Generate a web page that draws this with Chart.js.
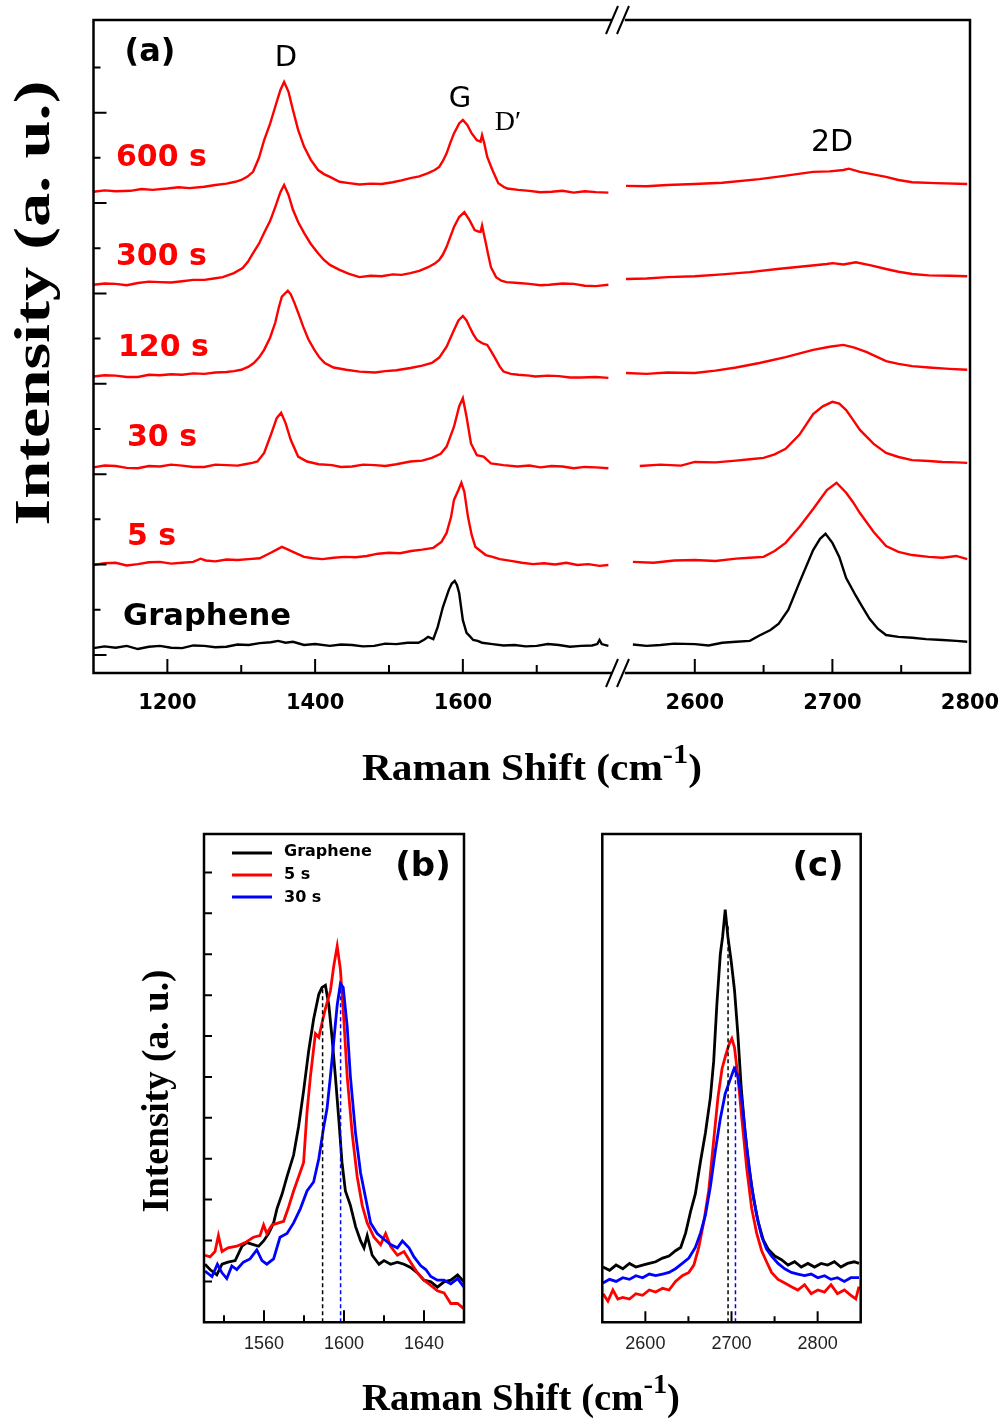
<!DOCTYPE html>
<html>
<head>
<meta charset="utf-8">
<script src="https://cdn.jsdelivr.net/npm/chart.js@4.4.1/dist/chart.umd.min.js"></script>
<style>
  html, body { margin: 0; padding: 0; background: #fff; }
  #page { position: relative; width: 1005px; height: 1425px; overflow: hidden; }
  #page canvas { position: absolute; left: 0; top: 0; }
</style>
</head>
<body>
<div id="page">
  <canvas id="a-low" width="1005" height="1425"></canvas>
  <canvas id="a-high" width="1005" height="1425"></canvas>
  <canvas id="b-g" width="1005" height="1425"></canvas>
  <canvas id="c-2d" width="1005" height="1425"></canvas>
</div>
<script>
// ---------- panel (a): stacked spectra, [Raman shift, intensity + offset] ----------
const aGrapheneLow = [[1100,0.15],[1115,0.19],[1130,0.16],[1145,0.20],[1160,0.13],[1175,0.18],[1190,0.20],[1205,0.16],[1220,0.15],[1235,0.21],[1250,0.20],[1265,0.17],[1280,0.18],[1295,0.23],[1310,0.22],[1325,0.26],[1340,0.28],[1350,0.31],[1360,0.27],[1370,0.29],[1385,0.22],[1400,0.24],[1420,0.20],[1435,0.23],[1450,0.22],[1465,0.19],[1480,0.20],[1495,0.25],[1510,0.24],[1525,0.27],[1540,0.27],[1548,0.34],[1553,0.40],[1560,0.35],[1566,0.62],[1573,1.06],[1581,1.44],[1585,1.58],[1589,1.64],[1592,1.55],[1595,1.37],[1600,0.77],[1605,0.49],[1609,0.42],[1614,0.33],[1620,0.31],[1626,0.27],[1640,0.24],[1655,0.21],[1670,0.22],[1685,0.19],[1700,0.20],[1715,0.24],[1730,0.22],[1745,0.18],[1760,0.20],[1775,0.21],[1782,0.24],[1785,0.33],[1788,0.24],[1797,0.20]];
const aGrapheneHigh = [[2555,0.23],[2565,0.20],[2575,0.22],[2585,0.25],[2600,0.24],[2610,0.21],[2620,0.27],[2630,0.29],[2640,0.31],[2647,0.43],[2655,0.55],[2661,0.69],[2668,1.00],[2676,1.60],[2686,2.32],[2691,2.57],[2695,2.68],[2700,2.48],[2705,2.17],[2710,1.70],[2717,1.31],[2721,1.10],[2727,0.80],[2733,0.58],[2739,0.44],[2748,0.40],[2758,0.38],[2768,0.35],[2780,0.33],[2790,0.31],[2798,0.29]];

const a5sLow = [[1100,1.99],[1115,2.03],[1130,2.04],[1145,1.98],[1160,2.01],[1175,2.05],[1190,2.06],[1205,2.02],[1220,2.04],[1235,2.06],[1245,2.13],[1252,2.09],[1265,2.07],[1280,2.11],[1295,2.10],[1310,2.12],[1325,2.14],[1340,2.26],[1348,2.33],[1355,2.39],[1362,2.34],[1370,2.28],[1385,2.17],[1397,2.14],[1410,2.12],[1425,2.15],[1440,2.17],[1455,2.16],[1470,2.19],[1485,2.24],[1500,2.26],[1515,2.25],[1530,2.30],[1545,2.33],[1560,2.37],[1571,2.50],[1578,2.70],[1584,3.05],[1588,3.43],[1594,3.65],[1598,3.81],[1602,3.61],[1607,3.05],[1612,2.65],[1617,2.39],[1624,2.30],[1631,2.21],[1640,2.17],[1650,2.12],[1665,2.08],[1680,2.04],[1695,2.01],[1710,2.03],[1725,2.00],[1740,2.04],[1755,1.99],[1770,2.01],[1785,1.97],[1797,1.99]];
const a5sHigh = [[2555,2.06],[2570,2.04],[2585,2.09],[2600,2.10],[2615,2.08],[2630,2.13],[2640,2.15],[2650,2.17],[2658,2.30],[2666,2.48],[2676,2.83],[2686,3.23],[2696,3.65],[2703,3.81],[2710,3.59],[2715,3.38],[2720,3.14],[2725,2.93],[2730,2.72],[2739,2.41],[2748,2.28],[2758,2.21],[2770,2.17],[2780,2.15],[2790,2.19],[2798,2.12]];

const a30sLow = [[1100,4.15],[1115,4.19],[1130,4.18],[1145,4.14],[1160,4.13],[1175,4.18],[1190,4.17],[1205,4.21],[1220,4.19],[1235,4.16],[1250,4.16],[1265,4.21],[1280,4.20],[1295,4.19],[1305,4.22],[1315,4.25],[1322,4.28],[1331,4.47],[1341,4.91],[1348,5.24],[1354,5.36],[1360,5.13],[1367,4.76],[1377,4.39],[1389,4.28],[1405,4.22],[1423,4.20],[1435,4.16],[1450,4.17],[1465,4.21],[1481,4.20],[1495,4.18],[1510,4.22],[1529,4.28],[1545,4.30],[1558,4.36],[1570,4.45],[1578,4.61],[1588,5.05],[1595,5.50],[1600,5.68],[1605,5.27],[1611,4.68],[1619,4.42],[1628,4.39],[1638,4.24],[1655,4.20],[1674,4.17],[1690,4.19],[1705,4.15],[1720,4.18],[1735,4.17],[1750,4.13],[1765,4.16],[1780,4.15],[1797,4.13]];
const a30sHigh = [[2560,4.18],[2575,4.21],[2590,4.19],[2600,4.27],[2615,4.26],[2630,4.30],[2640,4.33],[2650,4.36],[2658,4.44],[2666,4.56],[2676,4.87],[2686,5.33],[2693,5.50],[2700,5.60],[2705,5.56],[2710,5.42],[2715,5.20],[2720,4.98],[2730,4.67],[2739,4.47],[2748,4.38],[2758,4.31],[2770,4.29],[2780,4.27],[2790,4.26],[2798,4.25]];

const a120sLow = [[1100,6.16],[1115,6.19],[1130,6.18],[1145,6.15],[1160,6.15],[1175,6.20],[1190,6.19],[1205,6.21],[1220,6.20],[1235,6.23],[1250,6.22],[1265,6.25],[1280,6.26],[1290,6.28],[1300,6.31],[1310,6.38],[1317,6.46],[1324,6.58],[1331,6.75],[1339,7.02],[1346,7.35],[1351,7.70],[1355,7.93],[1363,8.06],[1367,7.98],[1372,7.79],[1378,7.53],[1384,7.26],[1391,6.98],[1399,6.75],[1406,6.58],[1413,6.46],[1425,6.36],[1442,6.31],[1460,6.27],[1481,6.25],[1495,6.28],[1510,6.30],[1529,6.35],[1545,6.40],[1558,6.46],[1568,6.58],[1578,6.82],[1588,7.19],[1594,7.40],[1600,7.50],[1605,7.40],[1609,7.26],[1614,7.10],[1619,6.97],[1626,6.90],[1633,6.86],[1639,6.70],[1645,6.53],[1650,6.38],[1655,6.27],[1665,6.22],[1675,6.20],[1690,6.18],[1698,6.16],[1715,6.18],[1730,6.17],[1745,6.14],[1760,6.14],[1780,6.15],[1797,6.13]];
const a120sHigh = [[2550,6.24],[2565,6.22],[2580,6.25],[2600,6.24],[2615,6.29],[2630,6.36],[2647,6.46],[2666,6.59],[2686,6.75],[2698,6.82],[2708,6.86],[2716,6.80],[2725,6.70],[2739,6.50],[2748,6.44],[2758,6.39],[2770,6.36],[2785,6.33],[2798,6.31]];

const a300sLow = [[1100,8.19],[1115,8.22],[1130,8.21],[1145,8.18],[1160,8.23],[1175,8.26],[1190,8.25],[1205,8.24],[1220,8.27],[1235,8.30],[1250,8.30],[1263,8.33],[1275,8.36],[1290,8.45],[1302,8.56],[1309,8.70],[1316,8.89],[1324,9.10],[1331,9.34],[1339,9.60],[1346,9.91],[1353,10.24],[1358,10.40],[1364,10.18],[1370,9.85],[1377,9.58],[1385,9.34],[1394,9.10],[1404,8.89],[1412,8.74],[1420,8.63],[1433,8.52],[1446,8.43],[1460,8.36],[1475,8.39],[1490,8.38],[1505,8.42],[1517,8.41],[1529,8.45],[1541,8.50],[1553,8.58],[1562,8.66],[1568,8.74],[1573,8.86],[1578,9.03],[1583,9.25],[1588,9.47],[1595,9.69],[1602,9.80],[1609,9.62],[1616,9.40],[1621,9.37],[1624,9.36],[1626,9.50],[1629,9.27],[1631,9.12],[1634,8.88],[1638,8.58],[1645,8.36],[1652,8.28],[1659,8.25],[1675,8.23],[1690,8.21],[1705,8.18],[1717,8.19],[1735,8.22],[1750,8.21],[1765,8.17],[1780,8.16],[1797,8.19]];
const a300sHigh = [[2550,8.32],[2565,8.33],[2580,8.36],[2600,8.38],[2620,8.42],[2640,8.47],[2660,8.54],[2680,8.60],[2696,8.65],[2700,8.67],[2708,8.64],[2717,8.69],[2728,8.62],[2739,8.54],[2748,8.48],[2758,8.43],[2770,8.40],[2785,8.39],[2798,8.38]];

const a600sLow = [[1100,10.25],[1115,10.28],[1130,10.26],[1150,10.27],[1165,10.31],[1180,10.29],[1200,10.32],[1215,10.35],[1230,10.33],[1250,10.36],[1265,10.40],[1280,10.43],[1292,10.47],[1300,10.51],[1308,10.58],[1316,10.69],[1324,11.00],[1331,11.39],[1339,11.75],[1346,12.13],[1353,12.50],[1358,12.68],[1364,12.46],[1370,12.06],[1377,11.62],[1385,11.25],[1394,10.96],[1404,10.73],[1412,10.64],[1420,10.58],[1433,10.47],[1446,10.44],[1460,10.41],[1475,10.43],[1490,10.42],[1505,10.46],[1517,10.50],[1529,10.55],[1541,10.59],[1553,10.66],[1562,10.73],[1568,10.80],[1573,10.93],[1578,11.10],[1583,11.33],[1588,11.54],[1595,11.76],[1600,11.84],[1606,11.73],[1612,11.54],[1619,11.39],[1624,11.36],[1626,11.50],[1629,11.32],[1633,11.02],[1640,10.73],[1648,10.44],[1655,10.36],[1660,10.32],[1675,10.29],[1690,10.27],[1705,10.24],[1720,10.25],[1735,10.27],[1750,10.23],[1765,10.26],[1780,10.24],[1797,10.23]];
const a600sHigh = [[2550,10.38],[2565,10.37],[2580,10.40],[2600,10.42],[2620,10.45],[2647,10.53],[2665,10.60],[2686,10.69],[2698,10.70],[2708,10.73],[2712,10.76],[2720,10.69],[2739,10.58],[2748,10.51],[2758,10.46],[2775,10.44],[2798,10.42]];

// ---------- panel (b): G band ----------
const bGraphene = [[1530.5,1.42],[1533,1.29],[1536.4,1.16],[1539,1.42],[1542,1.47],[1545.6,1.51],[1549,1.86],[1551.4,1.95],[1554.7,1.90],[1557.3,1.86],[1559.8,1.99],[1562.3,2.17],[1564.8,2.43],[1566.5,2.78],[1569,3.13],[1571.5,3.56],[1574.8,4.09],[1577.3,4.79],[1579.8,5.66],[1582.3,6.62],[1584.8,7.41],[1587.4,8.02],[1589,8.19],[1590.7,8.24],[1592.4,7.76],[1594,6.97],[1595.7,6.01],[1597.4,4.96],[1599,3.91],[1600.7,3.21],[1603.2,2.86],[1605.8,2.34],[1608.3,1.99],[1610,1.82],[1611.6,2.12],[1614.1,1.64],[1617.5,1.42],[1620,1.51],[1623.3,1.42],[1626.7,1.47],[1630,1.42],[1633.3,1.34],[1636.7,1.21],[1640,1.03],[1643.4,0.99],[1646.7,0.86],[1650,0.99],[1653.4,1.03],[1656.8,1.16],[1660,0.99]];
const b5s = [[1530.5,1.64],[1533,1.60],[1535.5,1.73],[1537.2,2.12],[1539,1.73],[1542,1.82],[1546.4,1.86],[1550.6,1.95],[1554.7,2.08],[1558,2.12],[1559.8,2.38],[1561.4,2.17],[1564,2.38],[1567.3,2.43],[1569.8,2.47],[1572.3,2.82],[1574.8,3.21],[1577.3,3.56],[1579.8,3.91],[1581.5,5.14],[1583.2,6.01],[1585.7,7.06],[1587.4,6.97],[1589,7.32],[1590.7,7.67],[1593.2,8.10],[1594.9,8.72],[1596.6,9.20],[1598.2,8.63],[1599.9,7.41],[1601.6,6.01],[1604.1,4.61],[1606.6,3.56],[1609.1,2.86],[1611.6,2.43],[1615,2.08],[1618.3,1.90],[1620.8,2.17],[1623.3,1.86],[1626.7,1.64],[1630,1.73],[1633.3,1.47],[1636.7,1.21],[1640,1.03],[1643.4,0.90],[1646.7,0.77],[1650,0.72],[1653.4,0.46],[1656.8,0.46],[1660,0.33]];
const b30s = [[1530.5,1.25],[1534,1.12],[1536.7,1.42],[1539,1.21],[1541.4,1.07],[1543.9,1.38],[1546.4,1.29],[1549.7,1.47],[1553,1.55],[1556.4,1.77],[1559,1.51],[1561.4,1.42],[1564.8,1.55],[1568,2.08],[1571.5,2.17],[1574.8,2.43],[1578.2,2.78],[1581.5,3.21],[1584.8,3.43],[1587.4,4.00],[1589.9,4.79],[1591.5,5.22],[1593.2,6.01],[1594.9,6.88],[1596.6,7.76],[1598.2,8.28],[1599.6,8.19],[1601.6,7.23],[1603.2,6.01],[1605.8,4.61],[1608.3,3.65],[1610.8,3.04],[1613.3,2.43],[1616.6,2.17],[1620,2.03],[1623.3,1.90],[1626.7,1.82],[1629.2,1.99],[1632.5,1.82],[1635,1.60],[1638.4,1.38],[1640.9,1.29],[1643.4,1.12],[1646.7,1.03],[1650,1.03],[1653.4,0.94],[1656.8,1.07],[1660,0.86]];
const bPosGraphene = [[1589.3,0],[1589.3,8.2]];
const bPos30s = [[1598.3,0],[1598.3,8.3]];

// ---------- panel (c): 2D band ----------
const cGraphene = [[2550.8,1.35],[2558.4,1.27],[2566,1.40],[2573.8,1.31],[2581.5,1.44],[2589,1.35],[2596.8,1.40],[2604.5,1.44],[2612,1.48],[2620,1.57],[2627.5,1.62],[2635,1.75],[2641,1.83],[2646.7,2.18],[2652.5,2.71],[2658,3.14],[2664,3.93],[2669.7,4.63],[2675.5,5.50],[2679.3,6.38],[2683,7.77],[2687,9.00],[2689.7,9.43],[2692.7,10.09],[2695.8,9.43],[2699.7,8.82],[2703.5,8.12],[2707.3,7.07],[2711.2,5.76],[2715.8,4.63],[2720.4,3.76],[2725.4,3.06],[2731,2.45],[2737,2.01],[2742.6,1.79],[2750.3,1.62],[2758,1.53],[2765.7,1.40],[2773.3,1.48],[2781,1.35],[2788.7,1.44],[2796.4,1.35],[2804,1.44],[2811.7,1.40],[2819.4,1.48],[2827,1.35],[2834.7,1.44],[2842.4,1.48],[2848,1.44]];
const c5s = [[2550.8,0.70],[2556.5,0.52],[2562.3,0.79],[2568,0.57],[2573.8,0.61],[2581.5,0.57],[2589,0.70],[2596.8,0.66],[2604.5,0.79],[2612,0.74],[2620,0.83],[2627.5,0.79],[2635,1.00],[2642.9,1.14],[2650.5,1.22],[2656.3,1.40],[2662,1.83],[2667.8,2.45],[2673.6,3.23],[2679.3,4.45],[2684.3,5.50],[2689,6.20],[2693.5,6.55],[2697.4,6.81],[2700.4,6.94],[2703.5,6.72],[2707.3,6.03],[2712,4.98],[2717.7,3.76],[2723.4,2.79],[2729.2,2.18],[2735,1.75],[2740.7,1.48],[2746.5,1.22],[2754,1.05],[2761.8,0.96],[2769.5,0.87],[2777,0.79],[2784.8,0.92],[2792.5,0.70],[2800.2,0.79],[2808,0.74],[2815.5,0.92],[2823,0.70],[2831,0.79],[2838.6,0.66],[2844.3,0.57],[2848,0.87]];
const c30s = [[2550.8,0.96],[2558.4,1.05],[2566,1.00],[2573.8,1.09],[2581.5,1.05],[2589,1.14],[2596.8,1.09],[2604.5,1.18],[2612,1.14],[2620,1.18],[2627.5,1.22],[2635,1.31],[2642.9,1.44],[2650.5,1.57],[2658,1.83],[2664,2.18],[2669.7,2.62],[2675.5,3.32],[2681.2,4.19],[2687,4.98],[2692.7,5.59],[2698.5,5.94],[2703,6.20],[2707.3,6.03],[2712,5.42],[2717.7,4.28],[2723.4,3.32],[2729.2,2.62],[2735,2.10],[2740.7,1.79],[2746.5,1.62],[2754,1.44],[2761.8,1.31],[2769.5,1.22],[2777,1.18],[2784.8,1.14],[2792.5,1.18],[2800.2,1.09],[2808,1.14],[2815.5,1.05],[2823,1.09],[2831,1.00],[2838.6,1.09],[2848,1.09]];
const cPosGraphene = [[2696,0],[2696,9.7]];
const cPos30s = [[2704.6,0],[2704.6,6.3]];

// ---------- ticks and labels ----------
const aLowMajor = [1200, 1400, 1600];
const aLowMinor = [1300, 1500, 1700];
const aHighMajor = [2600, 2700, 2800];
const aHighMinor = [2650, 2750];
const aYMajor = [0, 2, 4, 6, 8, 10, 12];
const aYMinor = [1, 3, 5, 7, 9, 11, 13];
const bXMajor = [1560, 1600, 1640];
const bXMinor = [1540, 1580, 1620];
const bYTicks = [1, 2, 3, 4, 5, 6, 7, 8, 9, 10, 11];
const cXMajor = [2600, 2700, 2800];
const cXMinor = [2650, 2750];
const sampleNames = ['600 s', '300 s', '120 s', '30 s', '5 s', 'Graphene'];

const RED = '#ff0000', BLUE = '#0000ff', BLACK = '#000000';
const SERIF = '"Liberation Serif", "Times New Roman", serif';
const SANS = '"DejaVu Sans", sans-serif';

function line(data, color, width, dash) {
  return { data, borderColor: color, borderWidth: width, borderDash: dash || [],
           pointRadius: 0, fill: false, tension: 0 };
}

// box, inward ticks and tick labels, drawn through the chart's own scales
function makeFrame(f) {
  return {
    id: 'frame',
    afterDatasetsDraw(chart) {
      const { ctx, chartArea: a, scales: { x, y } } = chart;
      ctx.save();
      ctx.strokeStyle = '#000';
      ctx.lineWidth = 2.5;
      ctx.lineCap = 'square';
      ctx.beginPath();
      if (f.sides.includes('l')) { ctx.moveTo(a.left, a.top); ctx.lineTo(a.left, a.bottom); }
      if (f.sides.includes('r')) { ctx.moveTo(a.right, a.top); ctx.lineTo(a.right, a.bottom); }
      if (f.sides.includes('t')) { ctx.moveTo(a.left, a.top); ctx.lineTo(a.right, a.top); }
      if (f.sides.includes('b')) { ctx.moveTo(a.left, a.bottom); ctx.lineTo(a.right, a.bottom); }
      ctx.stroke();

      ctx.lineCap = 'butt';
      ctx.lineWidth = 2;
      ctx.beginPath();
      (f.xMajor || []).forEach(v => { const p = x.getPixelForValue(v); ctx.moveTo(p, a.bottom); ctx.lineTo(p, a.bottom - f.xMajorLen); });
      (f.xMinor || []).forEach(v => { const p = x.getPixelForValue(v); ctx.moveTo(p, a.bottom); ctx.lineTo(p, a.bottom - f.xMinorLen); });
      (f.yMajor || []).forEach(v => { const p = y.getPixelForValue(v); ctx.moveTo(a.left, p); ctx.lineTo(a.left + f.yMajorLen, p); });
      (f.yMinor || []).forEach(v => { const p = y.getPixelForValue(v); ctx.moveTo(a.left, p); ctx.lineTo(a.left + f.yMinorLen, p); });
      ctx.stroke();

      // axis break marks "//" left of the plot
      if (f.breakMarks) {
        ctx.beginPath();
        [a.left - 14, a.left - 3].forEach(c => {
          [a.top, a.bottom].forEach(yy => { ctx.moveTo(c - 6, yy + 14); ctx.lineTo(c + 6, yy - 14); });
        });
        ctx.stroke();
      }

      ctx.fillStyle = f.labelColor || '#000';
      ctx.font = f.labelFont;
      ctx.textAlign = 'center';
      ctx.textBaseline = 'middle';
      (f.xMajor || []).forEach(v => ctx.fillText(String(v), x.getPixelForValue(v), a.bottom + f.labelGap));
      ctx.restore();
    }
  };
}

// free text and legend samples; w stretches a text to a given length
function makeNotes(items) {
  return {
    id: 'notes',
    afterDraw(chart) {
      const ctx = chart.ctx;
      items.forEach(it => {
        ctx.save();
        if (it.seg) {
          ctx.strokeStyle = it.color; ctx.lineWidth = 3;
          ctx.beginPath(); ctx.moveTo(it.seg[0], it.seg[1]); ctx.lineTo(it.seg[2], it.seg[1]); ctx.stroke();
          ctx.restore();
          return;
        }
        const parts = it.parts || [{ t: it.t, font: it.font }];
        let total = 0;
        const widths = parts.map(p => { ctx.font = p.font; const w = ctx.measureText(p.t).width; total += w; return w; });
        const sx = it.w ? it.w / total : 1;
        ctx.translate(it.x, it.y);
        if (it.rot) ctx.rotate(it.rot);
        ctx.scale(sx, 1);
        ctx.fillStyle = it.color || '#000';
        ctx.textAlign = 'left';
        ctx.textBaseline = it.base || 'middle';
        let cx = it.align === 'left' ? 0 : -total / 2;
        parts.forEach((p, i) => { ctx.font = p.font; ctx.fillText(p.t, cx, p.dy || 0); cx += widths[i]; });
        ctx.restore();
      });
    }
  };
}

function spectrumChart(id, xRange, yRange, pad, datasets, frame, notes) {
  return new Chart(document.getElementById(id), {
    type: 'line',
    data: { datasets },
    options: {
      responsive: false,
      animation: false,
      devicePixelRatio: 1,
      events: [],
      layout: { padding: pad },
      scales: {
        x: { type: 'linear', min: xRange[0], max: xRange[1], display: false },
        y: { type: 'linear', min: yRange[0], max: yRange[1], display: false }
      },
      plugins: { legend: { display: false }, tooltip: { enabled: false } }
    },
    plugins: [makeFrame(frame), makeNotes(notes)]
  });
}

const W = 1005, H = 1425;
const aY = [-0.40, 14.05];
const bcY = [0, 11.94];
const xTitle = (x, y, w) => ({
  x, y, w, base: 'alphabetic',
  parts: [
    { t: 'Raman Shift (cm', font: 'bold 38px ' + SERIF },
    { t: '-1', font: 'bold 28px ' + SERIF, dy: -17 },
    { t: ')', font: 'bold 38px ' + SERIF }
  ]
});

// (a) low wavenumber part, 1100-1800 cm-1
spectrumChart('a-low', [1100, 1800], aY,
  { left: 93.5, top: 20, right: W - 610.6, bottom: H - 673 },
  [
    line(aGrapheneLow, BLACK, 2.4), line(a5sLow, RED, 2.4), line(a30sLow, RED, 2.4),
    line(a120sLow, RED, 2.4), line(a300sLow, RED, 2.4), line(a600sLow, RED, 2.4)
  ],
  { sides: 'ltb', xMajor: aLowMajor, xMinor: aLowMinor, xMajorLen: 14, xMinorLen: 8,
    yMajor: aYMajor, yMinor: aYMinor, yMajorLen: 13, yMinorLen: 7,
    labelFont: 'bold 21px ' + SANS, labelGap: 31 },
  [
    { t: '(a)', font: 'bold 32px ' + SANS, x: 150, y: 53 },
    { t: 'D', font: '29px ' + SANS, x: 286, y: 58 },
    { t: 'G', font: '29px ' + SANS, x: 460, y: 99 },
    { t: 'D\u2032', font: '28px ' + SERIF, x: 508, y: 123 },
    { t: sampleNames[0], font: 'bold 30px ' + SANS, color: RED, x: 116, y: 158, align: 'left' },
    { t: sampleNames[1], font: 'bold 30px ' + SANS, color: RED, x: 116, y: 257, align: 'left' },
    { t: sampleNames[2], font: 'bold 30px ' + SANS, color: RED, x: 118, y: 348, align: 'left' },
    { t: sampleNames[3], font: 'bold 30px ' + SANS, color: RED, x: 127, y: 438, align: 'left' },
    { t: sampleNames[4], font: 'bold 30px ' + SANS, color: RED, x: 127, y: 537, align: 'left' },
    { t: sampleNames[5], font: 'bold 30px ' + SANS, color: BLACK, x: 123, y: 617, align: 'left', w: 168 },
    { t: 'Intensity (a. u.)', font: 'bold 50px ' + SERIF, x: 49, y: 303, w: 445,
      rot: -Math.PI / 2, base: 'alphabetic' },
    xTitle(532, 780, 340)
  ]);

// (a) high wavenumber part, 2550-2800 cm-1
spectrumChart('a-high', [2550, 2800], aY,
  { left: 626, top: 20, right: W - 970, bottom: H - 673 },
  [
    line(aGrapheneHigh, BLACK, 2.4), line(a5sHigh, RED, 2.4), line(a30sHigh, RED, 2.4),
    line(a120sHigh, RED, 2.4), line(a300sHigh, RED, 2.4), line(a600sHigh, RED, 2.4)
  ],
  { sides: 'trb', xMajor: aHighMajor, xMinor: aHighMinor, xMajorLen: 14, xMinorLen: 8,
    breakMarks: true, labelFont: 'bold 21px ' + SANS, labelGap: 31 },
  [
    { t: '2D', font: '30px ' + SANS, x: 832, y: 143 }
  ]);

// (b) G band
spectrumChart('b-g', [1530, 1660], bcY,
  { left: 204, top: 834, right: W - 464, bottom: H - 1322.3 },
  [
    line(bPosGraphene, BLACK, 1.5, [4, 3]), line(bPos30s, BLUE, 1.5, [4, 3]),
    line(b30s, BLUE, 2.8), line(b5s, RED, 2.8), line(bGraphene, BLACK, 2.8)
  ],
  { sides: 'ltrb', xMajor: bXMajor, xMinor: bXMinor, xMajorLen: 12, xMinorLen: 7,
    yMajor: bYTicks, yMajorLen: 8,
    labelFont: '18px "Liberation Sans", Arial, sans-serif', labelColor: '#222', labelGap: 22 },
  [
    { seg: [232, 853, 272], color: BLACK },
    { seg: [232, 875, 272], color: RED },
    { seg: [232, 897, 272], color: BLUE },
    { t: sampleNames[5], font: 'bold 16px ' + SANS, x: 284, y: 852, align: 'left' },
    { t: sampleNames[4], font: 'bold 16px ' + SANS, x: 284, y: 875, align: 'left' },
    { t: sampleNames[3], font: 'bold 16px ' + SANS, x: 284, y: 898, align: 'left' },
    { t: '(b)', font: 'bold 34px ' + SANS, x: 423, y: 867 },
    { t: 'Intensity (a. u.)', font: 'bold 37px ' + SERIF, x: 168, y: 1091, w: 243,
      rot: -Math.PI / 2, base: 'alphabetic' },
    xTitle(521, 1410, 318)
  ]);

// (c) 2D band
spectrumChart('c-2d', [2550, 2850], bcY,
  { left: 602.3, top: 834, right: W - 860.7, bottom: H - 1322.3 },
  [
    line(cPosGraphene, BLACK, 1.5, [4, 3]), line(cPos30s, BLUE, 1.5, [4, 3]),
    line(c30s, BLUE, 2.8), line(c5s, RED, 2.8), line(cGraphene, BLACK, 2.8)
  ],
  { sides: 'ltrb', xMajor: cXMajor, xMinor: cXMinor, xMajorLen: 11, xMinorLen: 6,
    labelFont: '18px "Liberation Sans", Arial, sans-serif', labelColor: '#222', labelGap: 22 },
  [
    { t: '(c)', font: 'bold 34px ' + SANS, x: 818, y: 867 }
  ]);
</script>
</body>
</html>
